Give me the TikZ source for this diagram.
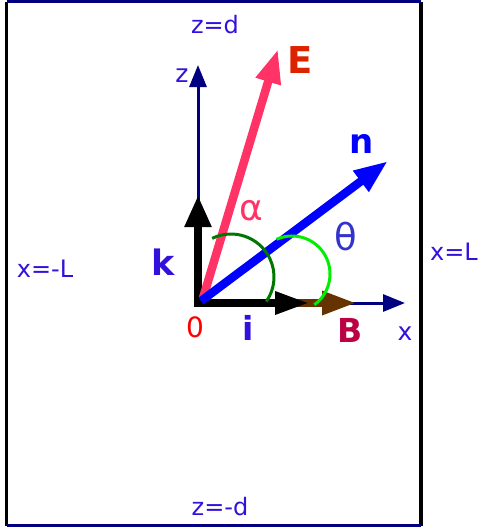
\documentclass[tikz,border=0pt]{standalone}
\usepackage{fontspec}
\setmainfont{DejaVu Sans}
\usetikzlibrary{arrows.meta}
\definecolor{navy}{HTML}{000080}
\definecolor{lblue}{HTML}{3311DD}
\definecolor{epink}{HTML}{FF3366}
\definecolor{ered}{HTML}{DD2200}
\definecolor{nblue}{HTML}{0000FF}
\definecolor{thblue}{HTML}{3333CC}
\definecolor{bcrim}{HTML}{BB0044}
\definecolor{dgreen}{HTML}{007700}
\definecolor{lgreen}{HTML}{00EE00}
\definecolor{brownv}{HTML}{663300}
\tikzset{
  fs/.style={font=\fontsize{#1}{#1}\selectfont},
  fsb/.style={font=\fontsize{#1}{#1}\selectfont\bfseries},
  lbl/.style={inner sep=0pt, anchor=base},
  axisline/.style={navy, line width=3pt},
  vec/.style={line width=8.5pt},
}
\begin{document}
\begin{tikzpicture}[x=1pt,y=-1pt]
\useasboundingbox (0,0) rectangle (479,530);
% frame
\coordinate (TL) at (6.5,1.5);
\coordinate (TR) at (421,1.5);
\coordinate (BL) at (6.5,525.5);
\coordinate (BR) at (421,525.5);
\draw[black, line width=3.5pt] (TL) -- (BL);
\draw[black, line width=3.5pt] (TR) -- (BR);
\draw[navy, line width=3pt] (TL) -- (TR);
\draw[navy, line width=3pt] (BL) -- (BR);
% origin and tips
\coordinate (O) at (198,303);
\coordinate (Zt) at (198,65);
\coordinate (Xt) at (405,303);
\coordinate (Bt) at (357,303);
\coordinate (It) at (310,303);
\coordinate (Kt) at (198,195);
\coordinate (Et) at (278,49);
\coordinate (Es) at (203,298);
\coordinate (Nt) at (388,161);
\coordinate (Ns) at (201,301);
% axes
\draw[axisline, -{Triangle[length=22pt,width=17pt]}] (O) -- (Zt);
\draw[axisline, -{Triangle[length=22pt,width=17pt]}] (O) -- (Xt);
% vectors
\draw[vec, brownv, -{Triangle[length=35pt,width=22pt]}] (O) -- (Bt);
\draw[vec, black, -{Triangle[length=35pt,width=21pt]}] ([xshift=-4pt]O) -- (It);
\draw[vec, black, -{Triangle[length=32pt,width=25pt]}] ([yshift=4pt]O) -- (Kt);
\draw[vec, epink, -{Triangle[length=34pt,width=24pt]}] (Es) -- (Et);
\draw[vec, nblue, -{Triangle[length=34pt,width=24pt]}] (Ns) -- (Nt);
% angle arcs
\coordinate (A1) at (231,277);
\coordinate (A2) at (292,274);
\draw[dgreen, line width=3pt] ([shift={(-116:43)}]A1) arc[start angle=-116, end angle=35, radius=43];
\draw[lgreen, line width=3pt] ([shift={(-114:38)}]A2) arc[start angle=-114, end angle=54, radius=38];
% labels
\node[lbl, fs=24, lblue] (zd) at (215,33) {z=d};
\node[lbl, fs=24, lblue] (zmd) at (220,515) {z=-d};
\node[lbl, fs=24, lblue] (xmL) at (45,277) {x=-L};
\node[lbl, fs=24, lblue] (xL) at (454,260) {x=L};
\node[lbl, fs=25, lblue] (zl) at (182,82) {z};
\node[lbl, fs=25, lblue] (xl) at (405,340) {x};
\node[lbl, fsb=37, ered] (El) at (300,73) {E};
\node[lbl, fsb=34, nblue] (nl) at (362,153) {n};
\node[lbl, fs=36, epink] (al) at (251,220) {α};
\node[lbl, fs=37, thblue] (tl) at (346,250) {θ};
\node[lbl, fsb=35, lblue] (kl) at (163,275) {k};
\node[lbl, fs=28, red] (ol) at (195,337) {0};
\node[lbl, fsb=33, lblue] (il) at (248,340) {i};
\node[lbl, fsb=33, bcrim] (Bl) at (350,342) {B};
\end{tikzpicture}
\end{document}
